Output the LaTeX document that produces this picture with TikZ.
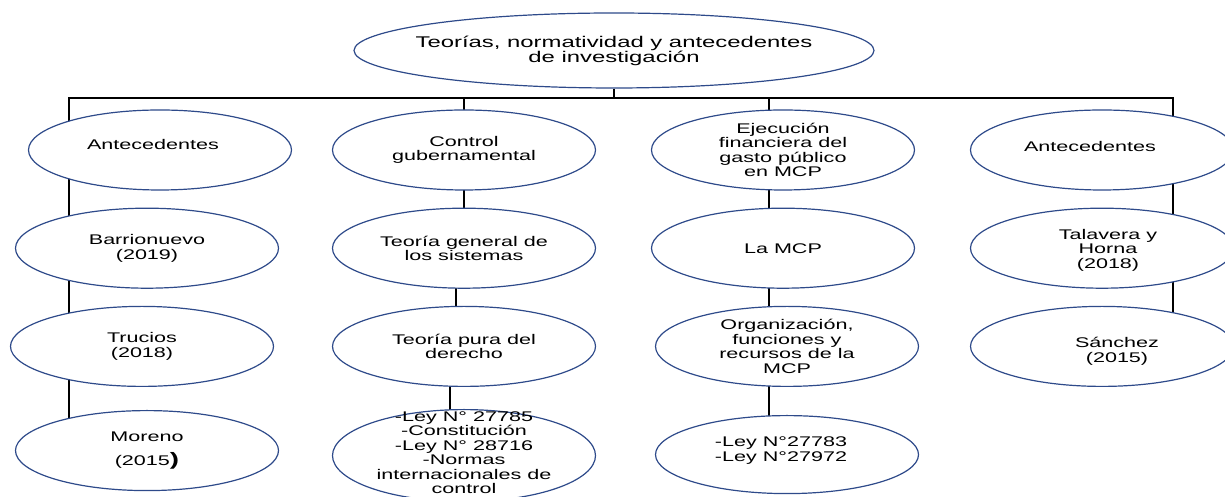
\documentclass[tikz,border=0pt]{standalone}
\usepackage{fontspec}
\setmainfont{Liberation Sans}[FakeStretch=1.54]
\usepackage{tikz}
\usetikzlibrary{shapes.geometric,positioning,backgrounds}
\definecolor{ovalblue}{RGB}{46,74,138}

\begin{document}
\begin{tikzpicture}[
  x=1pt, y=1pt,
  oval/.style={ellipse, draw=ovalblue, line width=1.2pt, fill=white, minimum width=263pt, minimum height=80pt, inner sep=0pt},
  txt/.style={align=center, font=\fontsize{14}{14.4}\selectfont, inner sep=0pt, text=black},
  link/.style={line width=2pt, black}
]
\useasboundingbox (0,0) rectangle (1225,497);

\node[oval, minimum width=520pt, minimum height=75pt, label={[txt, font=\fontsize{15.5}{15}\selectfont]center:Teorías, normatividad y antecedentes\\de investigación}] (top) at (614,446.5) {};

% first row
\node[oval, label={[txt, xshift=-7pt, yshift=5pt]center:Antecedentes}] (a1) at (160,347) {};
\node[oval, label={[txt]center:Control\\gubernamental}] (c1) at (464,347) {};
\node[oval, label={[txt]center:Ejecución\\financiera del\\gasto público\\en MCP}] (e1) at (783,347) {};
\node[oval, label={[txt, xshift=-12pt, yshift=3pt]center:Antecedentes}] (t1) at (1102,347) {};

% antecedentes, left
\node[oval, below=17pt of a1, xshift=-13pt, label={[txt]center:Barrionuevo\\(2019)}] (a2) {};
\node[oval, below=17pt of a2, xshift=-5pt, label={[txt]center:Trucios\\(2018)}] (a3) {};
\node[oval, below=23pt of a3, xshift=5pt, label={[txt]center:Moreno\\[9pt](2015{\fontsize{18}{18}\selectfont\bfseries )}}] (a4) {};

% control
\node[oval, below=17pt of c1, label={[txt]center:Teoría general de\\los sistemas}] (c2) {};
\node[oval, below=17pt of c2, label={[txt]center:Teoría pura del\\derecho}] (c3) {};
\node[oval, below=22pt of c3, minimum height=92pt, label={[txt, yshift=3pt]center:-Ley N° 27785\\-Constitución\\-Ley N° 28716\\-Normas\\internacionales de\\control}] (c4) {};

% ejecucion
\node[oval, below=17pt of e1, label={[txt]center:La MCP}] (e2) {};
\node[oval, below=17pt of e2, xshift=4pt, label={[txt]center:Organización,\\funciones y\\recursos de la\\MCP}] (e3) {};
\node[oval, below=28pt of e3, minimum height=78pt, label={[txt, xshift=-6pt, yshift=4pt]center:-Ley N°27783\\-Ley N°27972}] (e4) {};

% antecedentes, right
\node[oval, below=17pt of t1, label={[txt, xshift=6pt, yshift=-2pt]center:Talavera y\\Horna\\(2018)}] (t2) {};
\node[oval, below=17pt of t2, label={[txt, xshift=15pt, yshift=-5pt]center:Sánchez\\(2015)}] (t3) {};

\coordinate (barL) at (69,399);
\coordinate (barR) at (1173,399);
\coordinate (barE) at (769,399);

\begin{scope}[on background layer]
\draw[link] (top.south) -- (top.south |- barL);
\draw[link] (barL |- a4.center) -- (barL) -- (barR) -- (barR |- t3.center);
\draw[link] (c1.center |- barL) -- (c2.center);
\draw[link] ([xshift=-8pt]c2.center) -- ([xshift=-8pt]c3.center);
\draw[link] ([xshift=-14pt]c3.center) -- ([xshift=-14pt]c4.center);
\draw[link] (barE) -- (barE |- e4.center);
\end{scope}
\end{tikzpicture}
\end{document}
